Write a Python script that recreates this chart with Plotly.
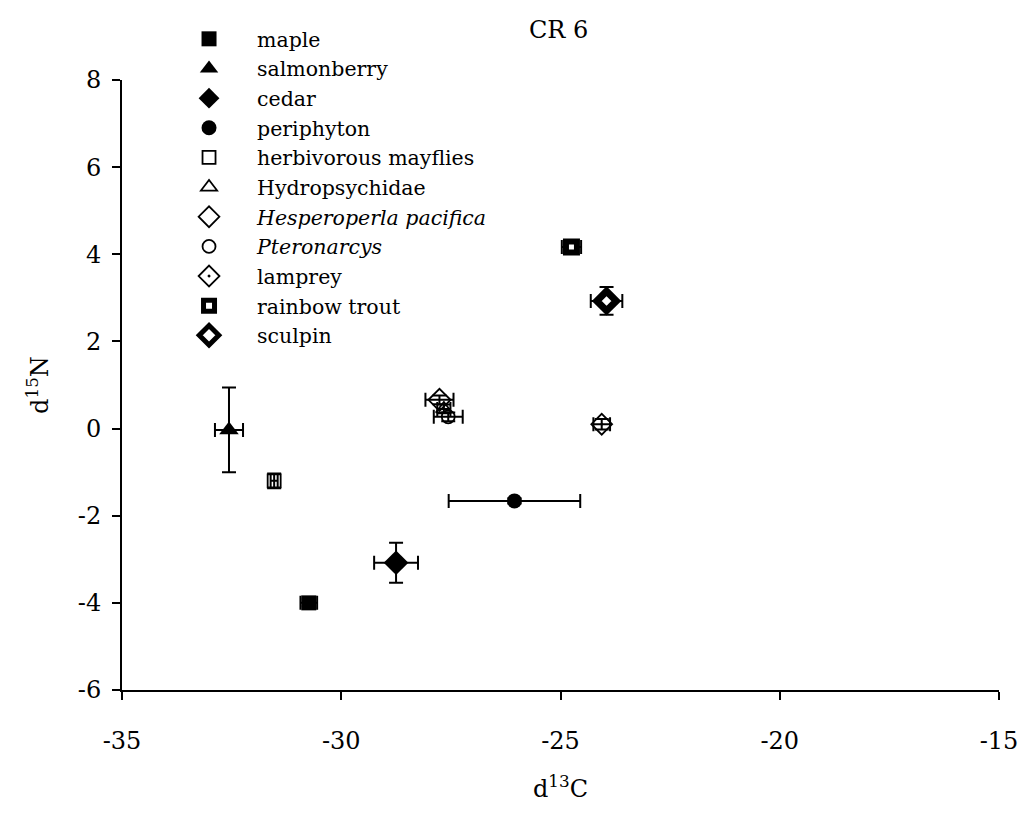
import plotly.graph_objects as go

names = ["maple", "salmonberry", "cedar", "periphyton", "herbivorous mayflies",
         "Hydropsychidae", "<i>Hesperoperla pacifica</i>", "<i>Pteronarcys</i>",
         "lamprey", "rainbow trout", "sculpin"]
d13C = [-30.74, -32.56, -28.75, -26.05, -31.53, -27.66, -27.76, -27.56, -24.06, -24.75, -23.95]
d13C_err = [0.19, 0.32, 0.50, 1.50, 0.08, 0.15, 0.32, 0.33, 0.19, 0.22, 0.36]
d15N = [-4.0, -0.03, -3.08, -1.66, -1.2, 0.45, 0.66, 0.27, 0.1, 4.17, 2.93]
d15N_err = [0.08, 0.97, 0.46, 0.06, 0.17, 0.1, 0.1, 0.1, 0.12, 0.1, 0.32]

symbols = ["square", "triangle-up", "diamond", "circle", "square-open", "triangle-up-open",
           "diamond-open", "circle-open", "diamond-open-dot", "square", "diamond"]
sizes = [15, 17, 19, 15, 13, 14, 17, 13, 16, 11, 15]
fills = ["black", "black", "black", "black", "black", "black", "black", "black", "black",
         "white", "white"]
linew = [0, 0, 0, 0, 1.8, 1.8, 1.8, 1.8, 1.8, 6, 7]

fig = go.Figure()
for i, n in enumerate(names):
    fig.add_trace(go.Scatter(
        x=[d13C[i]], y=[d15N[i]], mode="markers", name=n,
        marker=dict(symbol=symbols[i], size=sizes[i], color=fills[i],
                    line=dict(color="black", width=linew[i])),
        error_x=dict(type="data", array=[d13C_err[i]], color="black", thickness=2, width=7),
        error_y=dict(type="data", array=[d15N_err[i]], color="black", thickness=2, width=7),
    ))

font = "DejaVu Serif, Liberation Serif, serif"
fig.update_layout(
    width=1021, height=819,
    margin=dict(l=122, r=22, t=80, b=129),
    plot_bgcolor="white", paper_bgcolor="white",
    font=dict(family=font, size=20.5, color="black"),
    showlegend=True,
    legend=dict(x=0.0445, y=1.1, xanchor="left", yanchor="top", bgcolor="rgba(0,0,0,0)",
                font=dict(family=font, size=20.5), itemwidth=86, tracegroupgap=0),
    annotations=[dict(text="CR 6", x=0.498, y=1.0, xref="paper", yref="paper",
                      yshift=66, showarrow=False, font=dict(family=font, size=24))],
)
fig.update_xaxes(range=[-35, -15], tickvals=[-35, -30, -25, -20, -15],
                 ticktext=["-35", "-30", "-25", "-20", "-15"], automargin=False,
                 showgrid=False, zeroline=False, showline=True, linecolor="black", linewidth=2,
                 ticks="outside", ticklen=8, tickwidth=2, tickcolor="black",
                 ticklabelstandoff=20, tickfont=dict(size=24),
                 title=dict(text="d<sup>13</sup>C", font=dict(size=24), standoff=26))
fig.update_yaxes(range=[-6, 8], tickvals=[-6, -4, -2, 0, 2, 4, 6, 8],
                 ticktext=["-6", "-4", "-2", "0", "2", "4", "6", "8"], automargin=False,
                 showgrid=False, zeroline=False, showline=True, linecolor="black", linewidth=2,
                 ticks="outside", ticklen=8, tickwidth=2, tickcolor="black",
                 ticklabelstandoff=6, tickfont=dict(size=24),
                 title=dict(text="d<sup>15</sup>N", font=dict(size=24), standoff=22))

fig.write_html("out.html")
